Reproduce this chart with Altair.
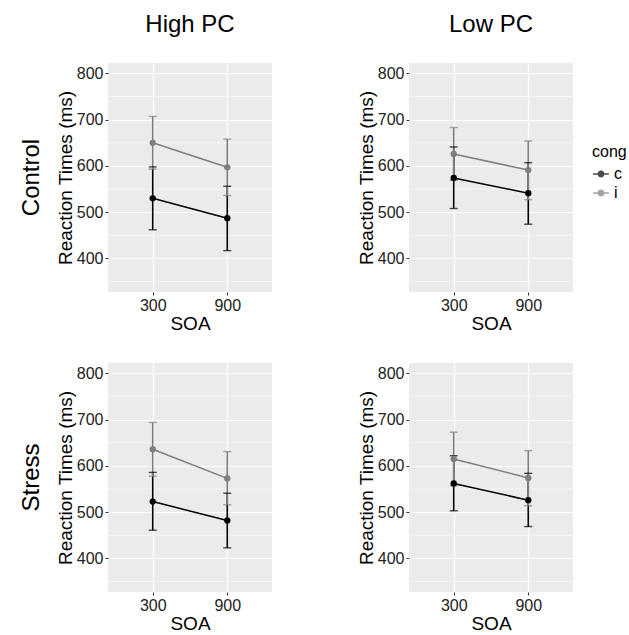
import altair as alt
import pandas as pd

conditions = ["Control", "Control", "Stress", "Stress"]
pcs = ["High PC", "Low PC", "High PC", "Low PC"]
soa_levels = [300, 900]
cong_levels = ["c", "i"]

# mean, lower, upper for (c300, c900, i300, i900) per panel
means = [
    [530, 487, 650, 597],
    [574, 541, 626, 591],
    [523, 482, 636, 573],
    [562, 526, 615, 574],
]
lowers = [
    [462, 417, 593, 536],
    [508, 474, 569, 527],
    [461, 423, 578, 516],
    [503, 469, 557, 514],
]
uppers = [
    [598, 556, 707, 658],
    [641, 607, 683, 654],
    [586, 541, 694, 631],
    [622, 584, 673, 633],
]
major_breaks = [400, 500, 600, 700, 800]
minor_breaks = [350, 450, 550, 650, 750]

rows = []
for p in range(4):
    k = 0
    for cg in cong_levels:
        for s in soa_levels:
            rows.append({
                "cond": conditions[p], "pc": pcs[p], "cong": cg, "SOA": s,
                "rt": means[p][k], "lo": lowers[p][k], "hi": uppers[p][k],
            })
            k += 1
df = pd.DataFrame(rows)

FONT = "Liberation Sans"
color = alt.Color(
    "cong:N",
    scale=alt.Scale(domain=["c", "i"], range=["#000000", "#7f7f7f"]),
    legend=alt.Legend(title="cong", orient="none", legendX=484, legendY=81),
)

xscale = alt.Scale(domain=[-60, 1260], nice=False, zero=False)
yscale = alt.Scale(domain=[327.5, 822.5], nice=False, zero=False)
YT = "Reaction Times (ms)"
x = alt.X("SOA:Q", title="SOA", scale=xscale, axis=alt.Axis(values=[300, 900]))
y = alt.Y("rt:Q", title=YT, scale=yscale, axis=alt.Axis(values=major_breaks))

base = alt.Chart(df)
minor = base.transform_filter(
    "datum.SOA == 300 && datum.cong == 'c'"
).transform_calculate(
    minor=str(minor_breaks)
).transform_flatten(["minor"]).mark_rule(color="white", strokeWidth=0.6).encode(
    y=alt.Y("minor:Q", scale=yscale, title=YT)
)
err = base.mark_rule(strokeWidth=1.6).encode(x=x, y=alt.Y("lo:Q", scale=yscale, title=YT), y2="hi:Q", color=color)
cap_lo = base.mark_tick(orient="horizontal", size=8, thickness=1.4).encode(x=x, y=alt.Y("lo:Q", scale=yscale, title=YT), color=color)
cap_hi = base.mark_tick(orient="horizontal", size=8, thickness=1.4).encode(x=x, y=alt.Y("hi:Q", scale=yscale, title=YT), color=color)
line = base.mark_line(strokeWidth=1.5).encode(x=x, y=y, color=color, detail="cong:N")
pts = base.mark_point(filled=True, size=40, opacity=1).encode(x=x, y=y, color=color)

layer = alt.layer(minor, line, err, cap_lo, cap_hi, pts).properties(width=164, height=229)

chart = layer.facet(
    column=alt.Column("pc:N", sort=["High PC", "Low PC"],
                      header=alt.Header(title=None, labelFontSize=24, labelFont=FONT,
                                        labelColor="black", labelPadding=26)),
    row=alt.Row("cond:N", sort=["Control", "Stress"],
                header=alt.Header(title=None, labelFontSize=24, labelFont=FONT,
                                  labelColor="black", labelPadding=0, labelAngle=-90)),
    spacing={"column": 84, "row": 30},
).resolve_axis(x="independent", y="independent").configure_view(
    fill="#EBEBEB", stroke=None
).configure_axis(
    domain=False, gridColor="white", gridWidth=1.2, tickColor="#333333", tickSize=3,
    labelFont=FONT, labelFontSize=16, labelColor="#222222", labelPadding=2,
    titleFont=FONT, titleFontSize=19, titleFontWeight="normal", titleColor="black",
    titlePadding=1,
).configure_legend(
    titleFont=FONT, titleFontSize=16, titleFontWeight="normal", titleColor="black",
    labelFont=FONT, labelFontSize=16, labelColor="black", padding=0,
    symbolType="M -1 0 L 1 0 M -0.35 0 A 0.35 0.35 0 1 1 0.35 0 A 0.35 0.35 0 1 1 -0.35 0 Z",
    symbolSize=250, symbolStrokeWidth=1.5,
).properties(padding={"left": 20, "top": 13, "right": 0, "bottom": 0})

chart.save("out.html", embed_options={"renderer": "svg", "actions": False})
